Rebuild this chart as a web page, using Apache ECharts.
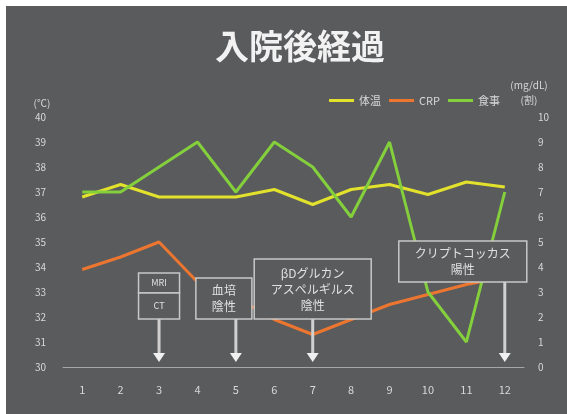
<!DOCTYPE html>
<html><head><meta charset="utf-8">
<script src="https://cdn.jsdelivr.net/npm/echarts@6/dist/echarts.min.js"></script>
<style>html,body{margin:0;padding:0;background:#fff;}#c{width:567px;height:414px;}</style>
</head><body><div id="c"></div>
<script>
const categories = ['1','2','3','4','5','6','7','8','9','10','11','12'];
const temperature = [36.8,37.3,36.8,36.8,36.8,37.1,36.5,37.1,37.3,36.9,37.4,37.2];
const crp = [3.9,4.4,5.0,3.4,2.8,1.9,1.3,1.9,2.5,2.9,3.3,3.6];
const meal = [7,7,8,9,7,9,8,6,9,3,1,7];
const leftTicks = [30,40,1];
const rightTicks = [0,10,1];
// annotations: category index, lines, box top (right-axis units), box width (px)
const notes = [
  {cat:2, lines:['MRI','CT'], split:true},
  {cat:4, lines:['血培','陰性']},
  {cat:6, lines:['βDグルカン','アスペルギルス','陰性']},
  {cat:11, lines:['クリプトコッカス','陽性']}
];
const FONT = '"Noto Sans CJK JP","Noto Sans",sans-serif';
const txt = '#d8d8d8';
const chart = echarts.init(document.getElementById('c'));
chart.setOption({
  backgroundColor:'#ffffff',
  textStyle:{fontFamily:FONT},
  animation:false,
  title:{text:'入院後経過',left:295,textAlign:'center',top:24,
    textStyle:{color:'#f2f2f2',fontSize:34,fontWeight:'bold',fontFamily:FONT}},
  legend:{right:62,top:90,itemWidth:25,itemHeight:3,itemGap:8,icon:'rect',
    textStyle:{color:txt,fontSize:11,fontFamily:FONT},
    data:['体温','CRP','食事']},
  grid:{left:63,right:43,top:117,bottom:47},
  xAxis:{type:'category',data:categories,boundaryGap:true,
    axisLine:{lineStyle:{color:'#a6a6a6',width:1}},axisTick:{show:false},
    axisLabel:{color:txt,fontSize:11,margin:17}},
  yAxis:[
    {type:'value',min:leftTicks[0],max:leftTicks[1],interval:leftTicks[2],
     name:'(℃)',nameLocation:'end',nameGap:9,nameTextStyle:{color:txt,fontSize:10,align:'center',padding:[0,0,0,-42]},
     axisLine:{show:false},axisTick:{show:false},splitLine:{show:false},
     axisLabel:{color:txt,fontSize:10,margin:17}},
    {type:'value',min:rightTicks[0],max:rightTicks[1],interval:rightTicks[2],
     name:'(mg/dL)\n(割)',nameLocation:'end',nameGap:9,nameTextStyle:{color:txt,fontSize:10,align:'center',padding:[0,0,0,10],lineHeight:15},
     axisLine:{show:false},axisTick:{show:false},splitLine:{show:false},
     axisLabel:{color:txt,fontSize:10,margin:14}}
  ],
  series:[
    {name:'体温',type:'line',yAxisIndex:0,data:temperature,symbol:'none',
     lineStyle:{color:'#e2e12c',width:3},itemStyle:{color:'#e2e12c'},z:3},
    {name:'CRP',type:'line',yAxisIndex:1,data:crp,symbol:'none',
     lineStyle:{color:'#ec7630',width:3},itemStyle:{color:'#ec7630'},z:2},
    {name:'食事',type:'line',yAxisIndex:1,data:meal,symbol:'none',
     lineStyle:{color:'#83cf3c',width:3},itemStyle:{color:'#83cf3c'},z:4}
  ]
});
// annotation geometry (pixel sizes) placed from data coordinates
const boxSpec = [
  {w:41, topV:3.76, botV:1.92},
  {w:56, topV:3.56, botV:1.92},
  {w:117,topV:4.32, botV:1.92},
  {w:128,topV:5.04, botV:3.4}
];
const boxOffset = [0, -12, 0, -42];
const g = [{type:'rect',shape:{x:6,y:6,width:561,height:408},style:{fill:'#5a5b5d'},z:-10,silent:true}];
notes.forEach((n,i)=>{
  const s = boxSpec[i];
  const top = chart.convertToPixel({xAxisIndex:0,yAxisIndex:1},[n.cat,s.topV]);
  const bot = chart.convertToPixel({xAxisIndex:0,yAxisIndex:1},[n.cat,s.botV]);
  const tip = chart.convertToPixel({xAxisIndex:0,yAxisIndex:1},[n.cat,0.2]);
  const cx = top[0] + boxOffset[i];
  const x0 = cx - s.w/2, y0 = top[1], h = bot[1]-top[1];
  const stroke = '#c8c8c8';
  // arrow shaft + head
  g.push({type:'line',shape:{x1:top[0],y1:bot[1],x2:top[0],y2:tip[1]-8},style:{stroke:'#d0d0d0',lineWidth:3},z:20});
  g.push({type:'polygon',shape:{points:[[top[0]-6,tip[1]-9],[top[0]+6,tip[1]-9],[top[0],tip[1]]]},style:{fill:'#f0f0f0'},z:21});
  if(n.split){
    const mid = y0 + 20;
    g.push({type:'rect',shape:{x:x0,y:y0,width:s.w,height:mid-y0},style:{fill:'#5a5b5d',stroke:stroke,lineWidth:1.5},z:20});
    g.push({type:'rect',shape:{x:x0,y:mid,width:s.w,height:bot[1]-mid},style:{fill:'#5a5b5d',stroke:stroke,lineWidth:1.5},z:20});
    g.push({type:'text',style:{text:n.lines[0],x:cx,y:(y0+mid)/2,align:'center',verticalAlign:'middle',fill:'#e0e0e0',fontSize:9,fontFamily:FONT},z:22});
    g.push({type:'text',style:{text:n.lines[1],x:cx,y:(mid+bot[1])/2,align:'center',verticalAlign:'middle',fill:'#e0e0e0',fontSize:9,fontFamily:FONT},z:22});
  } else {
    g.push({type:'rect',shape:{x:x0,y:y0,width:s.w,height:h},style:{fill:'#5a5b5d',stroke:stroke,lineWidth:1.5},z:20});
    g.push({type:'text',style:{text:n.lines.join('\n'),x:cx,y:y0+h/2,align:'center',verticalAlign:'middle',fill:'#e0e0e0',fontSize:12,lineHeight:16,fontFamily:FONT},z:22});
  }
});
chart.setOption({graphic:g});
</script></body></html>
